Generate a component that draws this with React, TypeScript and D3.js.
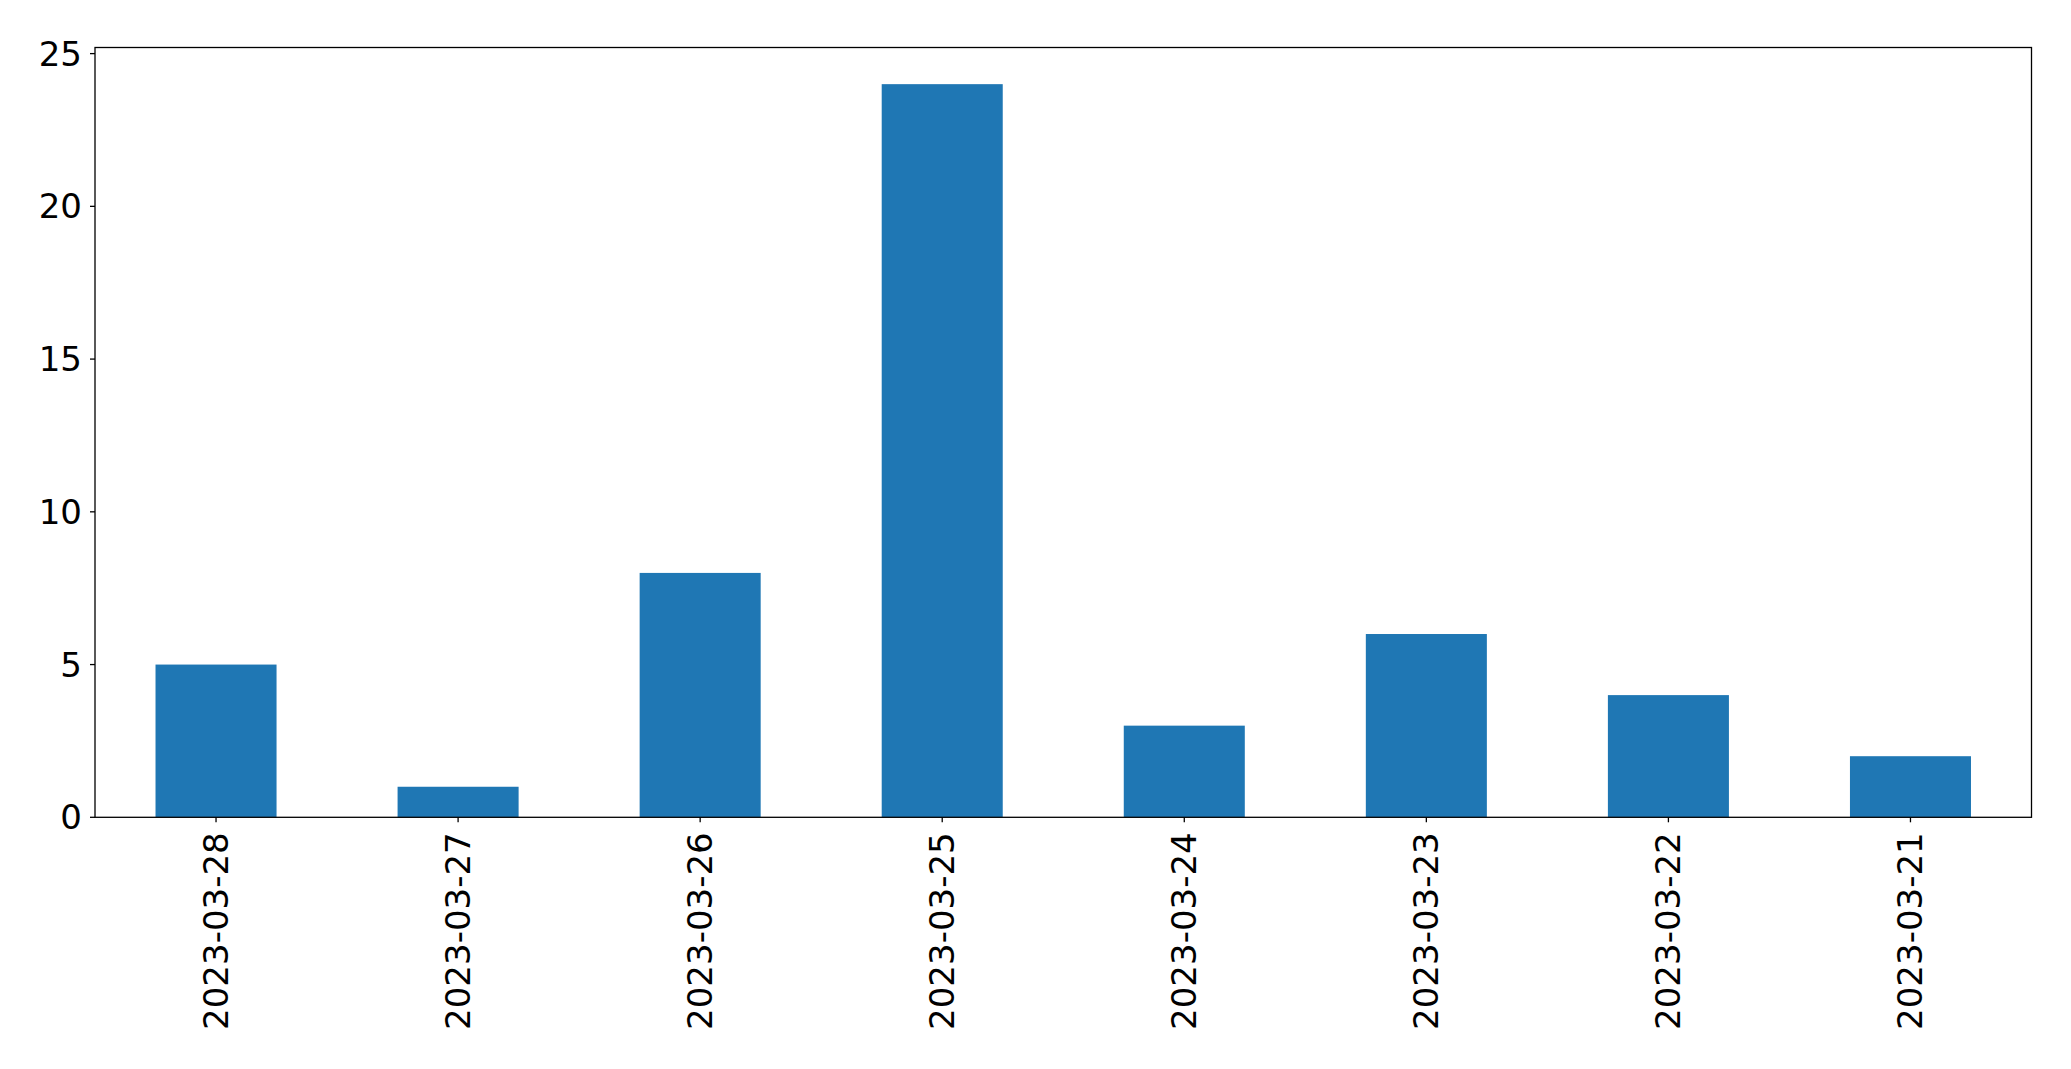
import React from "react";
import * as d3 from "d3";

const categories = ["2023-03-28", "2023-03-27", "2023-03-26", "2023-03-25", "2023-03-24", "2023-03-23", "2023-03-22", "2023-03-21"];
const values = [5, 1, 8, 24, 3, 6, 4, 2];
const yTicks = [0, 5, 10, 15, 20, 25];

const W = 2071;
const H = 1069;
const left = 95;
const right = 2031.5;
const top = 47.5;
const bottom = 817.3;
const FONT = "'DejaVu Sans', sans-serif";
const FS = 34;

export default function App() {
  const x = d3.scaleLinear().domain([-0.5, categories.length - 0.5]).range([left, right]);
  const y = d3.scaleLinear().domain([0, d3.max(values)! * 1.05]).range([bottom, top]);
  const bw = x(0.25) - x(-0.25);
  return (
    <div style={{ position: "absolute", left: 0, top: 0 }}>
      <svg width={W} height={H} style={{ display: "block", background: "#fff" }}>
        {values.map((v, i) => (
          <rect key={i} x={x(i) - bw / 2} y={y(v)} width={bw} height={y(0) - y(v)} fill="#1f77b4" />
        ))}
        <rect x={left} y={top} width={right - left} height={bottom - top} fill="none" stroke="#000" strokeWidth={1.3} />
        {yTicks.map((t) => (
          <g key={t}>
            <line x1={left - 5} x2={left} y1={y(t)} y2={y(t)} stroke="#000" strokeWidth={1.3} />
            <text x={left - 13} y={y(t)} textAnchor="end" dominantBaseline="central" fontFamily={FONT} fontSize={FS} fill="#000">
              {t}
            </text>
          </g>
        ))}
        {categories.map((c, i) => (
          <g key={c}>
            <line x1={x(i)} x2={x(i)} y1={bottom} y2={bottom + 5} stroke="#000" strokeWidth={1.3} />
            <text
              transform={`translate(${x(i)},${bottom + 15}) rotate(-90)`}
              textAnchor="end"
              dominantBaseline="central"
              fontFamily={FONT}
              fontSize={FS}
              fill="#000"
            >
              {c}
            </text>
          </g>
        ))}
      </svg>
    </div>
  );
}
